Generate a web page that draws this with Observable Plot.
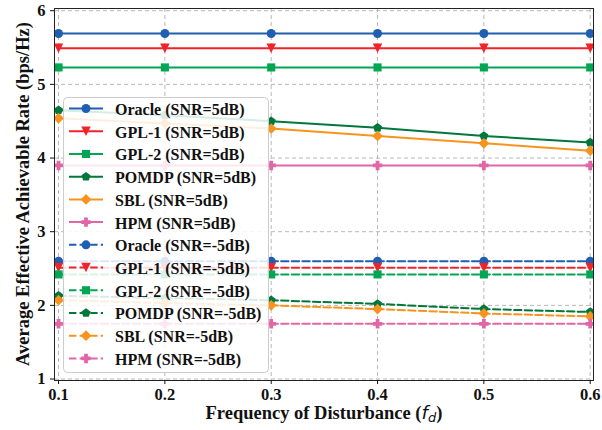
<!DOCTYPE html>
<html><head><meta charset="utf-8">
<script src="https://cdn.jsdelivr.net/npm/d3@7"></script>
<script src="https://cdn.jsdelivr.net/npm/@observablehq/plot@0.6"></script>
<style>
body{margin:0;background:#fff;}
#wrap{position:relative;width:602px;height:430px;}
#wrap svg{position:absolute;left:0;top:0;}
</style></head><body><div id="wrap"></div>
<script>
// ---- data ----
const fd = [0.1, 0.2, 0.3, 0.4, 0.5, 0.6];
const xTicks = [0.1, 0.2, 0.3, 0.4, 0.5, 0.6];
const yTicks = [1, 2, 3, 4, 5, 6];
const methods = ["Oracle", "GPL-1", "GPL-2", "POMDP", "SBL", "HPM"];
const snrLabels = ["SNR=5dB", "SNR=-5dB"];

const oracle5 = [5.69, 5.69, 5.69, 5.69, 5.69, 5.69];
const gpl1_5  = [5.49, 5.49, 5.49, 5.49, 5.49, 5.49];
const gpl2_5  = [5.23, 5.23, 5.23, 5.23, 5.23, 5.23];
const pomdp5  = [4.65, 4.58, 4.50, 4.41, 4.30, 4.21];
const sbl5    = [4.54, 4.47, 4.40, 4.30, 4.20, 4.10];
const hpm5    = [3.90, 3.90, 3.90, 3.90, 3.90, 3.90];

const oracleM5 = [2.60, 2.60, 2.60, 2.60, 2.60, 2.60];
const gpl1M5   = [2.51, 2.51, 2.51, 2.51, 2.51, 2.51];
const gpl2M5   = [2.42, 2.42, 2.42, 2.42, 2.42, 2.42];
const pomdpM5  = [2.13, 2.10, 2.07, 2.02, 1.95, 1.91];
const sblM5    = [2.07, 2.03, 2.00, 1.95, 1.89, 1.85];
const hpmM5    = [1.75, 1.75, 1.75, 1.75, 1.75, 1.75];

const colors = ["#1f5fb2", "#f0232b", "#00a651", "#00783c", "#f7941d", "#e066a8"];

// ---- marker shapes (size = r*r*PI) ----
const rad = s => Math.sqrt(s / Math.PI);
const symCircle = {draw(c, s) { const r = rad(s); c.moveTo(r, 0); c.arc(0, 0, r, 0, 2 * Math.PI); c.closePath(); }};
const symTriDown = {draw(c, s) { const r = rad(s) * 1.05; c.moveTo(-r, -r); c.lineTo(r, -r); c.lineTo(0, r); c.closePath(); }};
const symSquare = {draw(c, s) { const h = rad(s) * 0.9; c.moveTo(-h, -h); c.lineTo(h, -h); c.lineTo(h, h); c.lineTo(-h, h); c.closePath(); }};
const symPent = {draw(c, s) { const r = rad(s) * 1.05; for (let k = 0; k < 5; k++) { const a = -Math.PI / 2 + k * 2 * Math.PI / 5; const px = r * Math.cos(a), py = r * Math.sin(a); if (k) c.lineTo(px, py); else c.moveTo(px, py); } c.closePath(); }};
const symDiamond = {draw(c, s) { const r = rad(s) * 1.2; c.moveTo(0, -r); c.lineTo(r, 0); c.lineTo(0, r); c.lineTo(-r, 0); c.closePath(); }};
const symPlus = {draw(c, s) { const r = rad(s) * 1.05, t = r * 0.4; c.moveTo(-t, -r); c.lineTo(t, -r); c.lineTo(t, -t); c.lineTo(r, -t); c.lineTo(r, t); c.lineTo(t, t); c.lineTo(t, r); c.lineTo(-t, r); c.lineTo(-t, t); c.lineTo(-r, t); c.lineTo(-r, -t); c.lineTo(-t, -t); c.closePath(); }};
const symbols = [symCircle, symTriDown, symSquare, symPent, symDiamond, symPlus];

const seriesVals = [
  [oracle5, gpl1_5, gpl2_5, pomdp5, sbl5, hpm5],
  [oracleM5, gpl1M5, gpl2M5, pomdpM5, sblM5, hpmM5]
];
const DASH = "7.4,3.2";

const marks = [
  Plot.gridX(xTicks, {stroke: "#b8b8b8", strokeOpacity: 1, strokeDasharray: "4,3", strokeWidth: 1}),
  Plot.gridY(yTicks, {stroke: "#b8b8b8", strokeOpacity: 1, strokeDasharray: "4,3", strokeWidth: 1})
];
seriesVals.forEach((group, gi) => {
  group.forEach((vals, mi) => {
    const rows = fd.map((x, i) => ({x, y: vals[i]}));
    marks.push(Plot.line(rows, {x: "x", y: "y", stroke: colors[mi], strokeWidth: 2,
      strokeDasharray: gi ? DASH : null, clip: true}));
    marks.push(Plot.dot(rows, {x: "x", y: "y", symbol: symbols[mi], r: 4.5, fill: colors[mi], stroke: "none", clip: true}));
  });
});
marks.push(Plot.frame({stroke: "#222", strokeWidth: 1}));
marks.push(Plot.axisX(xTicks, {tickSize: 4, tickPadding: 4, tickFormat: d3.format(".1f"), label: null}));
marks.push(Plot.axisY(yTicks, {tickSize: 4, tickPadding: 5, tickFormat: d3.format("d"), label: null}));

const chart = Plot.plot({
  width: 602, height: 430,
  marginLeft: 54, marginRight: 9, marginTop: 8, marginBottom: 50,
  x: {domain: [0.0962, 0.6031]},
  y: {domain: [0.98, 6.03]},
  style: {fontFamily: "'Liberation Serif', 'Times New Roman', serif", fontSize: "16.5px", fontWeight: "bold", color: "#111", background: "#fff"},
  marks
});
document.getElementById("wrap").appendChild(chart);

// axis labels
const svg = d3.select(chart);
svg.append("text").attr("transform", "translate(29,194) rotate(-90)")
  .attr("text-anchor", "middle").style("font-size", "18.5px").style("font-weight", "bold")
  .attr("fill", "#111").text("Average Effective Achievable Rate (bps/Hz)");
const xl = svg.append("text").attr("x", 324).attr("y", 419).attr("text-anchor", "middle")
  .style("font-size", "18.5px").style("font-weight", "bold").attr("fill", "#111");
xl.append("tspan").text("Frequency of Disturbance (");
xl.append("tspan").style("font-family", "'DejaVu Sans'").style("font-style", "italic").style("font-weight", "normal").text("f");
xl.append("tspan").style("font-family", "'DejaVu Sans'").style("font-style", "italic").style("font-weight", "normal").style("font-size", "13px").attr("dy", 3).text("d");
xl.append("tspan").attr("dy", -3).text(")");

// legend overlay
const lg = d3.select("#wrap").append("svg").attr("width", 602).attr("height", 430)
  .style("pointer-events", "none");
lg.append("rect").attr("x", 63.5).attr("y", 97.5).attr("width", 205).attr("height", 275)
  .attr("rx", 4).attr("fill", "#fff").attr("fill-opacity", 0.85).attr("stroke", "#cccccc").attr("stroke-width", 1);
let row = 0;
snrLabels.forEach((snr, gi) => {
  methods.forEach((m, mi) => {
    const cy = 108.5 + row * 22.72;
    lg.append("line").attr("x1", 69).attr("x2", 103).attr("y1", cy).attr("y2", cy)
      .attr("stroke", colors[mi]).attr("stroke-width", 2).attr("stroke-dasharray", gi ? DASH : null);
    lg.append("path").attr("transform", `translate(86,${cy})`)
      .attr("d", d3.symbol(symbols[mi], 4.5 * 4.5 * Math.PI)()).attr("fill", colors[mi]);
    lg.append("text").attr("x", 115).attr("y", cy).attr("dy", "0.4em")
      .style("font-family", "'Liberation Serif', 'Times New Roman', serif")
      .style("font-size", "16px").style("font-weight", "bold").attr("fill", "#111")
      .text(`${m} (${snr})`);
    row++;
  });
});
</script></body></html>
